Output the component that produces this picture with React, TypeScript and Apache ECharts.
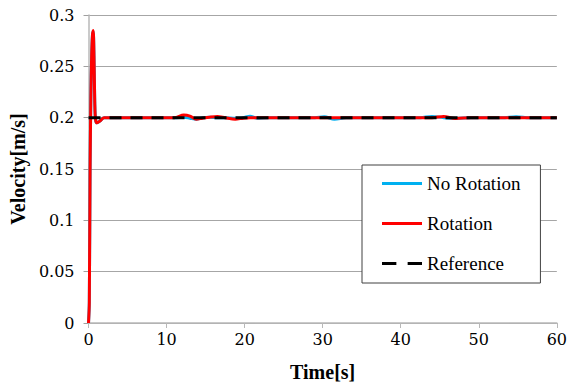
import React, { useEffect, useRef } from "react";
import * as echarts from "echarts";

const times = [0, 0.1, 0.2, 0.3, 0.4, 0.5, 0.6, 0.7, 0.8, 0.9, 1.1, 1.5, 2, 3, 5, 8, 11, 12.2, 13, 13.8, 14.6, 15.5, 16.5, 17.5, 18.8, 19.8, 20.7, 21.6, 23, 26, 29, 30.2, 31.5, 33, 35, 38, 40, 42.5, 44, 45.5, 47, 49, 51, 53, 54.8, 56.5, 58, 60];
const noRotation = [0, 0.02, 0.15, 0.22, 0.26, 0.28, 0.284, 0.26, 0.215, 0.198, 0.195, 0.197, 0.2, 0.2, 0.2, 0.2, 0.2, 0.2005, 0.1995, 0.1985, 0.2, 0.2005, 0.2, 0.2, 0.1995, 0.2, 0.2015, 0.1995, 0.2, 0.2, 0.2, 0.2008, 0.1985, 0.2, 0.2, 0.2, 0.2, 0.2, 0.2012, 0.2, 0.1995, 0.2, 0.2, 0.2, 0.201, 0.2, 0.2, 0.2];
const rotation = [0, 0.02, 0.15, 0.22, 0.26, 0.28, 0.285, 0.26, 0.215, 0.198, 0.195, 0.197, 0.2, 0.2, 0.2, 0.2, 0.2, 0.2025, 0.2015, 0.1985, 0.1995, 0.2005, 0.2012, 0.2, 0.1985, 0.1995, 0.2, 0.2, 0.2, 0.2, 0.2, 0.2, 0.2, 0.2, 0.2, 0.2, 0.2, 0.2, 0.2, 0.2012, 0.1992, 0.2, 0.2, 0.2, 0.2, 0.2, 0.2, 0.2];
const referenceTimes = [0, 60];
const referenceValues = [0.2, 0.2];
const legendNames = ["No Rotation", "Rotation", "Reference"];

const xTicks = { min: 0, max: 60, interval: 10 };
const yTicks = { min: 0, max: 0.3, interval: 0.05 };

export default function App() {
  const ref = useRef<HTMLDivElement>(null);
  useEffect(() => {
    if (!ref.current) return;
    const chart = echarts.init(ref.current, null, { renderer: "svg" });
    const tickFont = { fontFamily: "DejaVu Serif", fontSize: 16, color: "#000" };
    const titleFont = { fontFamily: "Liberation Serif", fontSize: 20, fontWeight: "bold" as const, color: "#000" };
    const legendFont = { fontFamily: "Liberation Serif", fontSize: 19, color: "#000" };
    const solidIcon = "path://M0,0 H40 V3 H0 Z";
    const dashIcon = "path://M0,0 H14 V3 H0 Z M25,0 H39 V3 H25 Z";
    chart.setOption({
      animation: false,
      backgroundColor: "#fff",
      textStyle: { fontFamily: "Liberation Serif" },
      grid: { left: 87, right: 12, top: 15, bottom: 63, containLabel: false },
      legend: {
        orient: "vertical",
        left: 362,
        top: 165,
        padding: [9, 20, 10, 20],
        itemGap: 21,
        itemWidth: 40,
        itemHeight: 18,
        borderColor: "#404040",
        borderWidth: 1,
        backgroundColor: "#fff",
        textStyle: legendFont,
        data: [
          { name: legendNames[0], icon: solidIcon, textStyle: legendFont },
          { name: legendNames[1], icon: solidIcon, textStyle: legendFont },
          { name: legendNames[2], icon: dashIcon, textStyle: legendFont },
        ],
      },
      xAxis: {
        type: "value",
        min: xTicks.min,
        max: xTicks.max,
        interval: xTicks.interval,
        name: "Time[s]",
        nameLocation: "middle",
        nameGap: 39,
        nameTextStyle: titleFont,
        axisLine: { lineStyle: { color: "#b8b8b8", width: 1.5 } },
        axisTick: { show: true, length: 5, lineStyle: { color: "#b8b8b8" } },
        axisLabel: { ...tickFont, margin: 8 },
        splitLine: { show: false },
      },
      yAxis: {
        type: "value",
        min: yTicks.min,
        max: yTicks.max,
        interval: yTicks.interval,
        name: "Velocity[m/s]",
        nameLocation: "middle",
        nameGap: 53,
        nameRotate: 90,
        nameTextStyle: titleFont,
        axisLine: { show: true, lineStyle: { color: "#b8b8b8", width: 1.5 } },
        axisTick: { show: true, length: 5, lineStyle: { color: "#a0a0a0" } },
        axisLabel: { ...tickFont, margin: 14 },
        splitLine: { show: true, lineStyle: { color: "#a6a6a6", width: 1 } },
      },
      series: [
        {
          name: legendNames[0],
          type: "line",
          data: times.map((t, i) => [t, noRotation[i]]),
          symbol: "none",
          smooth: 0.3,
          lineStyle: { color: "#00b0f0", width: 3 },
          itemStyle: { color: "#00b0f0" },
        },
        {
          name: legendNames[1],
          type: "line",
          data: times.map((t, i) => [t, rotation[i]]),
          symbol: "none",
          smooth: 0.3,
          lineStyle: { color: "#ff0000", width: 3 },
          itemStyle: { color: "#ff0000" },
        },
        {
          name: legendNames[2],
          type: "line",
          data: referenceTimes.map((t, i) => [t, referenceValues[i]]),
          symbol: "none",
          lineStyle: { color: "#000", width: 3, type: [12, 9] },
          itemStyle: { color: "#000" },
        },
      ],
    });
    return () => chart.dispose();
  }, []);
  return <div ref={ref} style={{ width: 570, height: 387, position: "absolute", left: 0, top: 0 }} />;
}
